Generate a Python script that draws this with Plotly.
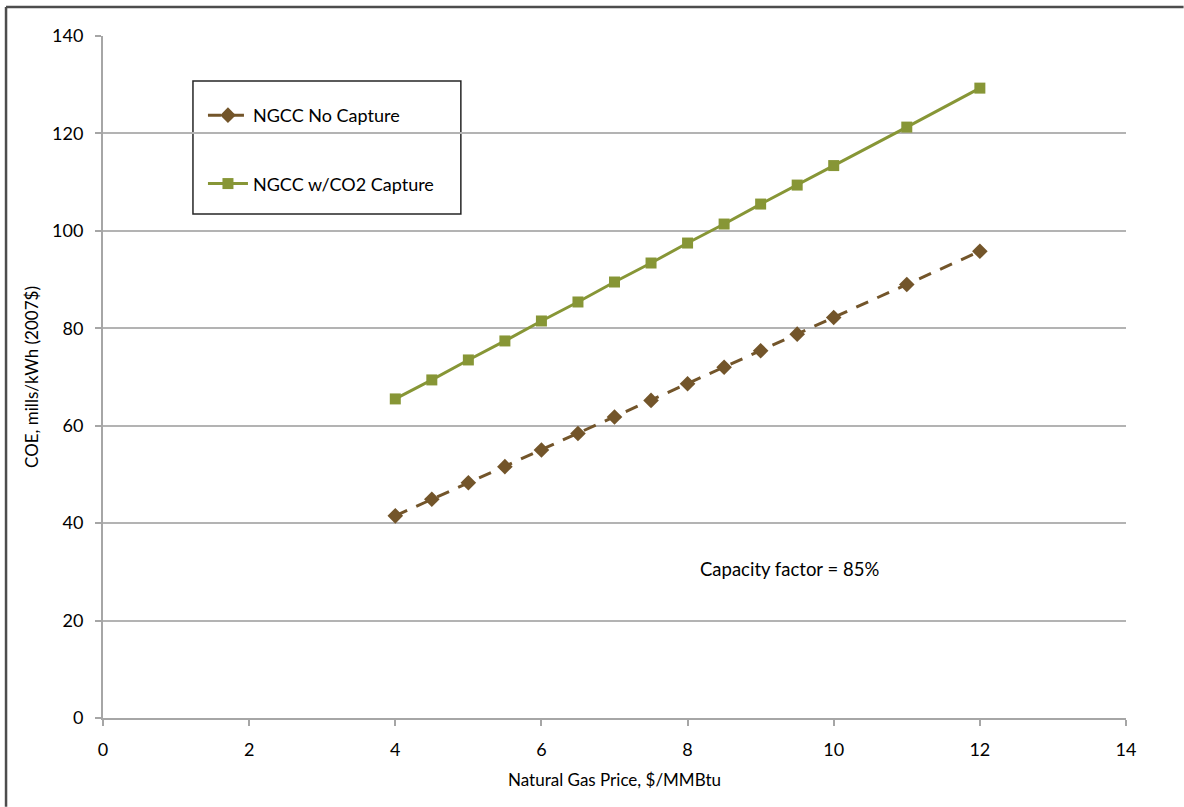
import plotly.graph_objects as go

gas_price = [4, 4.5, 5, 5.5, 6, 6.5, 7, 7.5, 8, 8.5, 9, 9.5, 10, 11, 12]
coe_no_capture = [41.5, 44.9, 48.3, 51.6, 55.0, 58.4, 61.8, 65.2, 68.6, 72.0, 75.4, 78.8, 82.2, 89.0, 95.8]
coe_capture = [65.5, 69.4, 73.5, 77.4, 81.5, 85.4, 89.5, 93.4, 97.5, 101.4, 105.5, 109.4, 113.4, 121.3, 129.3]

x_ticks = [0, 2, 4, 6, 8, 10, 12, 14]
y_ticks = [0, 20, 40, 60, 80, 100, 120, 140]

BROWN = "#73552A"
GREEN = "#879636"
FONT = "Lato"
FS = 18

fig = go.Figure()
fig.add_trace(go.Scatter(
    x=gas_price, y=coe_no_capture, name="NGCC No Capture", mode="lines+markers",
    line=dict(color=BROWN, width=3, dash="13px,10px"),
    marker=dict(symbol="diamond", size=12, color=BROWN),
    legendgroup="a",
))
fig.add_trace(go.Scatter(
    x=gas_price, y=coe_capture, name="NGCC w/CO2 Capture", mode="lines+markers",
    line=dict(color=GREEN, width=3),
    marker=dict(symbol="square", size=11, color=GREEN),
    legendgroup="b",
))

L, R, T, B = 103, 57.6, 36, 88.7
W, H = 1184, 807
pw, ph = W - L - R, H - T - B

def px(xp):
    return (xp - L) / pw

def py(yp):
    return (H - B - yp) / ph

fig.update_layout(
    width=W, height=H,
    margin=dict(l=L, r=R, t=T, b=B, pad=0),
    paper_bgcolor="white", plot_bgcolor="white",
    font=dict(family=FONT, size=FS, color="#000000"),
    showlegend=True,
    legend=dict(
        x=px(203), y=py(97), xanchor="left", yanchor="top",
        bgcolor="rgba(0,0,0,0)", borderwidth=0,
        font=dict(family=FONT, size=FS, color="#000000"),
        traceorder="grouped", tracegroupgap=42, itemwidth=40,
    ),
    xaxis=dict(
        range=[0, 14], tickvals=x_ticks, ticktext=[str(v) for v in x_ticks],
        showgrid=False, zeroline=False,
        showline=True, linecolor="#A6A6A6", linewidth=2,
        ticks="outside", ticklen=6, tickcolor="#A6A6A6", tickwidth=1.5,
        ticklabelstandoff=8,
        tickfont=dict(family=FONT, size=FS),
        title=dict(text="Natural Gas Price, $/MMBtu", font=dict(family=FONT, size=17), standoff=16),
    ),
    yaxis=dict(
        range=[0, 140], tickvals=y_ticks, ticktext=[str(v) for v in y_ticks],
        showgrid=True, gridcolor="#B3B3B3", gridwidth=1.5, zeroline=False,
        showline=True, linecolor="#A6A6A6", linewidth=2,
        ticks="outside", ticklen=6, tickcolor="#A6A6A6", tickwidth=1.5,
        ticklabelstandoff=8,
        tickfont=dict(family=FONT, size=FS),
        title=dict(text="COE, mills/kWh (2007$)", font=dict(family=FONT, size=17), standoff=9),
    ),
    shapes=[
        dict(type="rect", xref="paper", yref="paper",
             x0=px(193), x1=px(461), y0=py(214), y1=py(81),
             line=dict(color="#262626", width=1.5), fillcolor="white", layer="below"),
        dict(type="line", xref="paper", yref="paper",
             x0=px(6), x1=px(1184), y0=py(7), y1=py(7),
             line=dict(color="#4D4D4D", width=2.5)),
        dict(type="line", xref="paper", yref="paper",
             x0=px(6), x1=px(6), y0=py(807), y1=py(7),
             line=dict(color="#4D4D4D", width=2.5)),
    ],
    annotations=[
        dict(text="Capacity factor = 85%", xref="x", yref="y", x=9.4, y=30.5,
             showarrow=False, font=dict(family=FONT, size=18.5, color="#000000")),
    ],
)

fig.write_html("out.html", config={"displayModeBar": False},
               post_script="document.body.style.margin='0px';document.body.style.padding='0px';")
